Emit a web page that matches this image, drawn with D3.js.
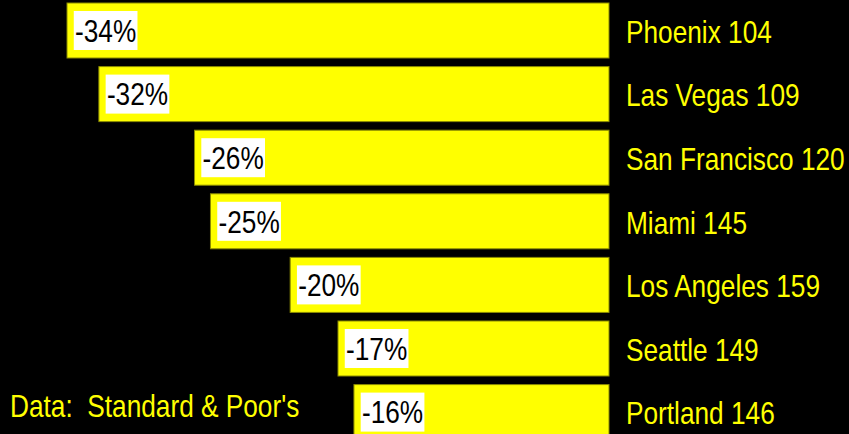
<!DOCTYPE html>
<html>
<head>
<meta charset="utf-8">
<script src="https://cdn.jsdelivr.net/npm/d3@7/dist/d3.min.js"></script>
<style>
  html, body { margin: 0; padding: 0; background: #000; }
  svg { display: block; }
  text { font-family: "Liberation Sans", Arial, sans-serif; }
</style>
</head>
<body>
<svg id="chart" width="849" height="434"></svg>
<script>
// Home price change from peak, by metro area (S&P/Case-Shiller index level)
const cities = ["Phoenix", "Las Vegas", "San Francisco", "Miami", "Los Angeles", "Seattle", "Portland"];
const indexLevels = [104, 109, 120, 145, 159, 149, 146];
const pctChange = [-34, -32, -26, -25, -20, -17, -16];
const sourceNote = "Data:  Standard & Poor's";

const width = 849, height = 434;
const yellow = "#ffff00";
const narrow = 0.82; // horizontal squeeze for a condensed face

const svg = d3.select("#chart");
svg.append("rect").attr("width", width).attr("height", height).attr("fill", "#000");

const rows = cities.map((c, i) => ({ city: c, level: indexLevels[i], pct: pctChange[i] }));

// Bars grow leftward from zero
const x = d3.scaleLinear().domain([-34, 0]).range([67, 609]);
const y = d3.scaleBand()
  .domain(cities)
  .range([-1.3, 443.9])
  .paddingInner(0.135)
  .paddingOuter(0.0675);

const row = svg.append("g").selectAll("g.row").data(rows).join("g").attr("class", "row");

row.append("rect")
  .attr("x", d => x(d.pct))
  .attr("y", d => y(d.city))
  .attr("width", d => x(0) - x(d.pct))
  .attr("height", y.bandwidth())
  .attr("fill", yellow)
  .attr("stroke", "#8a8a00")
  .attr("stroke-width", 1);

// Percentage labels on white tags inside the bar
const tag = row.append("g")
  .attr("transform", d => `translate(${x(d.pct) + 8},${y(d.city) + y.bandwidth() / 2}) scale(${narrow},1)`);

const labels = tag.append("text")
  .attr("dy", "0.35em")
  .attr("font-size", 32)
  .attr("fill", "#000")
  .text(d => `${d.pct}%`);

labels.each(function() {
  const bb = this.getBBox();
  d3.select(this.parentNode).insert("rect", "text")
    .attr("x", bb.x - 1.5)
    .attr("y", -19.5)
    .attr("width", bb.width + 3)
    .attr("height", 39)
    .attr("fill", "#fff");
});

// City names with index level
row.append("g")
  .attr("transform", d => `translate(626,${y(d.city) + y.bandwidth() / 2 + 1}) scale(${narrow},1)`)
  .append("text")
  .attr("dy", "0.35em")
  .attr("font-size", 32)
  .attr("fill", yellow)
  .text(d => `${d.city} ${d.level}`);

svg.append("g")
  .attr("transform", `translate(10,417) scale(${narrow},1)`)
  .append("text")
  .attr("font-size", 32)
  .attr("fill", yellow)
  .attr("xml:space", "preserve")
  .style("white-space", "pre")
  .text(sourceNote);
</script>
</body>
</html>
